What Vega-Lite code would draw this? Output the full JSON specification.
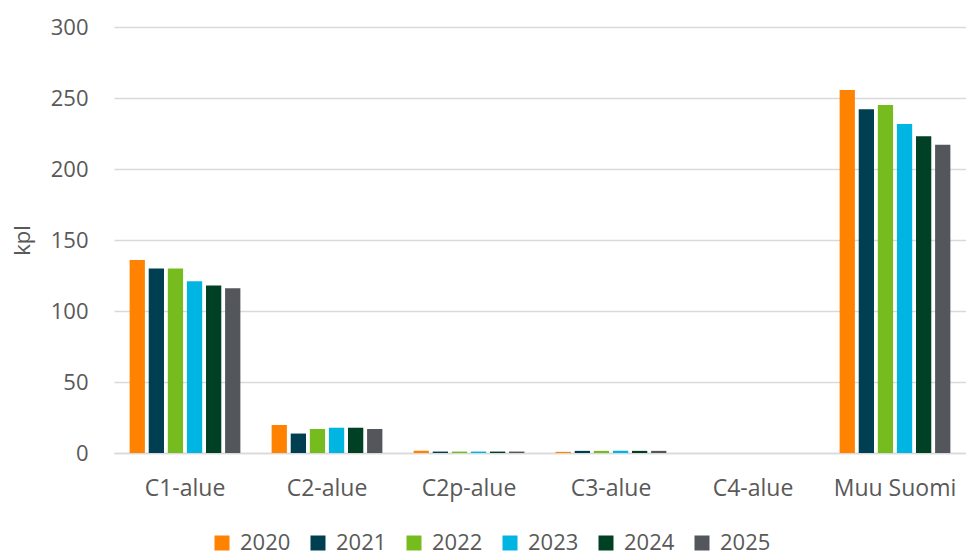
{
  "$schema": "https://vega.github.io/schema/vega-lite/v6.json",
  "width": 852,
  "height": 426,
  "autosize": "none",
  "padding": {"left": 114, "top": 27, "right": 0, "bottom": 103},
  "background": "white",
  "config": {
    "font": "Open Sans",
    "view": {"stroke": null}
  },
  "data": {
    "values": [
      {"alue": "C1-alue", "vuosi": "2020", "kpl": 136},
      {"alue": "C1-alue", "vuosi": "2021", "kpl": 130},
      {"alue": "C1-alue", "vuosi": "2022", "kpl": 130},
      {"alue": "C1-alue", "vuosi": "2023", "kpl": 121},
      {"alue": "C1-alue", "vuosi": "2024", "kpl": 118},
      {"alue": "C1-alue", "vuosi": "2025", "kpl": 116},
      {"alue": "C2-alue", "vuosi": "2020", "kpl": 19.7},
      {"alue": "C2-alue", "vuosi": "2021", "kpl": 13.7},
      {"alue": "C2-alue", "vuosi": "2022", "kpl": 16.9},
      {"alue": "C2-alue", "vuosi": "2023", "kpl": 17.8},
      {"alue": "C2-alue", "vuosi": "2024", "kpl": 17.8},
      {"alue": "C2-alue", "vuosi": "2025", "kpl": 16.9},
      {"alue": "C2p-alue", "vuosi": "2020", "kpl": 1.6},
      {"alue": "C2p-alue", "vuosi": "2021", "kpl": 1.0},
      {"alue": "C2p-alue", "vuosi": "2022", "kpl": 1.0},
      {"alue": "C2p-alue", "vuosi": "2023", "kpl": 1.0},
      {"alue": "C2p-alue", "vuosi": "2024", "kpl": 1.0},
      {"alue": "C2p-alue", "vuosi": "2025", "kpl": 1.0},
      {"alue": "C3-alue", "vuosi": "2020", "kpl": 0.8},
      {"alue": "C3-alue", "vuosi": "2021", "kpl": 1.5},
      {"alue": "C3-alue", "vuosi": "2022", "kpl": 1.5},
      {"alue": "C3-alue", "vuosi": "2023", "kpl": 1.5},
      {"alue": "C3-alue", "vuosi": "2024", "kpl": 1.5},
      {"alue": "C3-alue", "vuosi": "2025", "kpl": 1.5},
      {"alue": "C4-alue", "vuosi": "2020", "kpl": 0},
      {"alue": "C4-alue", "vuosi": "2021", "kpl": 0},
      {"alue": "C4-alue", "vuosi": "2022", "kpl": 0},
      {"alue": "C4-alue", "vuosi": "2023", "kpl": 0},
      {"alue": "C4-alue", "vuosi": "2024", "kpl": 0},
      {"alue": "C4-alue", "vuosi": "2025", "kpl": 0},
      {"alue": "Muu Suomi", "vuosi": "2020", "kpl": 255.6},
      {"alue": "Muu Suomi", "vuosi": "2021", "kpl": 242},
      {"alue": "Muu Suomi", "vuosi": "2022", "kpl": 245},
      {"alue": "Muu Suomi", "vuosi": "2023", "kpl": 231.7},
      {"alue": "Muu Suomi", "vuosi": "2024", "kpl": 223},
      {"alue": "Muu Suomi", "vuosi": "2025", "kpl": 217}
    ]
  },
  "mark": {"type": "bar"},
  "encoding": {
    "x": {
      "field": "alue",
      "type": "nominal",
      "sort": null,
      "title": null,
      "scale": {"paddingInner": 0.22, "paddingOuter": 0.11},
      "axis": {
        "labelAngle": 0,
        "labelFontSize": 23,
        "labelColor": "#595959",
        "labelPadding": 24,
        "ticks": false,
        "domainColor": "#d9d9d9",
        "domainWidth": 1.5
      }
    },
    "xOffset": {
      "field": "vuosi",
      "type": "nominal",
      "scale": {"paddingInner": 0.2}
    },
    "y": {
      "field": "kpl",
      "type": "quantitative",
      "title": "kpl",
      "scale": {"domain": [0, 300]},
      "axis": {
        "values": [0, 50, 100, 150, 200, 250, 300],
        "labelFontSize": 22,
        "labelColor": "#595959",
        "labelPadding": 26,
        "ticks": false,
        "domain": false,
        "gridColor": "#d9d9d9",
        "gridWidth": 1.5,
        "titleFontSize": 22,
        "titleFontWeight": "normal",
        "titleColor": "#595959",
        "titlePadding": 16
      }
    },
    "color": {
      "field": "vuosi",
      "type": "nominal",
      "title": null,
      "scale": {
        "domain": ["2020", "2021", "2022", "2023", "2024", "2025"],
        "range": ["#FF8300", "#003E52", "#77BC1F", "#00B5E2", "#004125", "#53565A"]
      },
      "legend": {
        "orient": "none",
        "legendX": 97,
        "legendY": 505,
        "padding": 0,
        "direction": "horizontal",
        "symbolType": "square",
        "symbolSize": 225,
        "symbolStrokeWidth": 0,
        "labelFontSize": 22,
        "labelColor": "#595959",
        "columnPadding": 16,
        "labelOffset": 7
      }
    }
  }
}
